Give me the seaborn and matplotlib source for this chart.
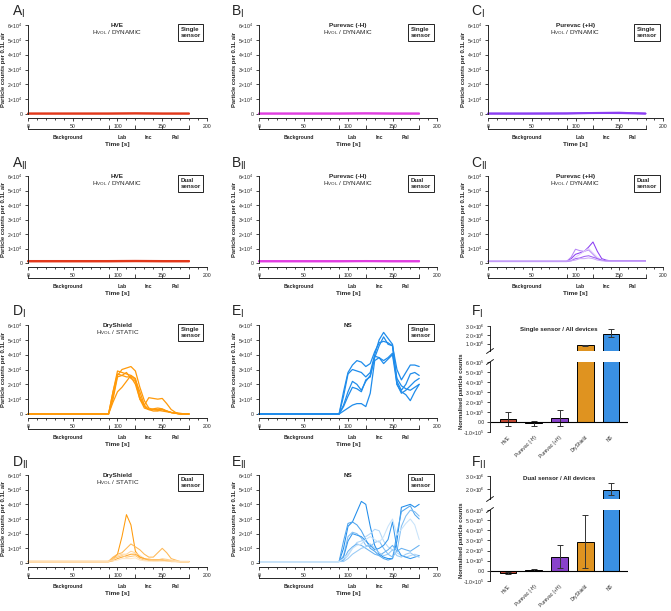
import numpy as np
import pandas as pd
import seaborn as sns
import matplotlib.pyplot as plt
from matplotlib.lines import Line2D

sns.set_theme(style="ticks")
plt.rcParams["font.family"] = ["Liberation Sans", "DejaVu Sans"]
plt.rcParams["mathtext.fontset"] = "custom"
plt.rcParams["mathtext.rm"] = "Liberation Sans"
plt.rcParams["mathtext.bf"] = "Liberation Sans:bold"
plt.rcParams["mathtext.default"] = "regular"

W, H = 671, 611

# ---- time series (counts in units of 1e4 per 0.1 L air) ----
t_run = [0, 90, 95, 100, 105, 110, 115, 120, 125, 130, 135, 140, 145, 150, 155, 160, 165, 170, 175, 180]
t_flat = [0, 45, 90, 120, 150, 180]

hve_single = [[0.03, 0.03, 0.03, 0.04, 0.03, 0.03],
              [0.02, 0.02, 0.02, 0.03, 0.02, 0.02],
              [0.04, 0.04, 0.04, 0.05, 0.04, 0.04]]
pnh_single = [[0.03, 0.03, 0.03, 0.04, 0.03, 0.03],
              [0.02, 0.02, 0.02, 0.03, 0.02, 0.02],
              [0.04, 0.04, 0.04, 0.05, 0.04, 0.04]]
ph_single = [[0.03, 0.03, 0.04, 0.08, 0.10, 0.03],
             [0.02, 0.02, 0.03, 0.05, 0.06, 0.02],
             [0.04, 0.04, 0.04, 0.06, 0.05, 0.04]]
hve_dual = [[0.12, 0.12, 0.12, 0.13, 0.12, 0.12],
            [0.10, 0.10, 0.10, 0.11, 0.10, 0.10],
            [0.15, 0.15, 0.15, 0.16, 0.15, 0.15]]
pnh_dual = [[0.12, 0.12, 0.12, 0.13, 0.12, 0.12],
            [0.10, 0.10, 0.10, 0.11, 0.10, 0.10],
            [0.14, 0.14, 0.14, 0.15, 0.14, 0.14]]
ph_dual = [
    [0.12, 0.12, 0.3, 0.6, 0.7, 0.8, 1.1, 1.45, 0.8, 0.3, 0.2, 0.15, 0.15, 0.15, 0.15, 0.15, 0.15, 0.15, 0.15, 0.15],
    [0.12, 0.12, 0.4, 0.95, 0.85, 0.8, 0.9, 0.6, 0.3, 0.2, 0.15, 0.15, 0.15, 0.15, 0.15, 0.15, 0.15, 0.15, 0.15, 0.15],
    [0.1, 0.1, 0.2, 0.4, 0.6, 0.8, 1.0, 0.7, 0.4, 0.2, 0.15, 0.12, 0.12, 0.12, 0.12, 0.12, 0.12, 0.12, 0.12, 0.12],
    [0.1, 0.1, 0.15, 0.3, 0.35, 0.45, 0.5, 0.4, 0.3, 0.2, 0.15, 0.12, 0.12, 0.12, 0.12, 0.12, 0.12, 0.12, 0.12, 0.12],
    [0.12, 0.12, 0.15, 0.2, 0.3, 0.3, 0.35, 0.3, 0.2, 0.15, 0.12, 0.12, 0.12, 0.12, 0.12, 0.12, 0.12, 0.12, 0.12, 0.12],
]
dry_single = [
    [0, 0, 1.5, 2.9, 2.8, 2.7, 2.6, 2.4, 1.2, 0.5, 0.3, 0.2, 0.2, 0.3, 0.2, 0.1, 0.05, 0, 0, 0],
    [0, 0, 1.2, 2.6, 3.0, 3.1, 3.2, 2.9, 1.8, 0.9, 0.4, 0.3, 0.3, 0.3, 0.2, 0.1, 0.05, 0, 0, 0],
    [0, 0, 0.8, 1.5, 1.8, 2.2, 2.6, 2.3, 1.5, 0.6, 0.3, 0.3, 0.25, 0.2, 0.15, 0.1, 0.05, 0, 0, 0],
    [0, 0, 1.5, 2.7, 2.6, 2.5, 2.5, 2.0, 1.0, 0.6, 1.1, 1.05, 1.0, 1.05, 0.7, 0.3, 0.1, 0.05, 0, 0],
    [0, 0, 1.0, 2.5, 2.6, 2.8, 2.4, 2.2, 1.0, 0.4, 0.3, 0.35, 0.4, 0.35, 0.2, 0.1, 0.05, 0, 0, 0],
]
dry_dual = [
    [0.1, 0.1, 0.3, 0.6, 1.8, 3.3, 2.6, 0.8, 0.4, 0.3, 0.2, 0.2, 0.2, 0.2, 0.15, 0.1, 0.1, 0.1, 0.1, 0.1],
    [0.12, 0.12, 0.4, 0.6, 0.7, 1.0, 1.3, 1.1, 0.9, 0.6, 0.4, 0.4, 0.7, 1.0, 0.7, 0.3, 0.2, 0.1, 0.1, 0.1],
    [0.1, 0.1, 0.2, 0.5, 0.6, 0.6, 0.8, 0.7, 0.5, 0.3, 0.3, 0.2, 0.2, 0.3, 0.25, 0.2, 0.15, 0.1, 0.1, 0.1],
    [0.08, 0.08, 0.15, 0.3, 0.4, 0.5, 0.6, 0.6, 0.4, 0.3, 0.2, 0.2, 0.2, 0.2, 0.15, 0.1, 0.1, 0.08, 0.08, 0.08],
    [0.1, 0.1, 0.3, 0.4, 0.5, 0.4, 0.45, 0.5, 0.3, 0.2, 0.2, 0.15, 0.15, 0.2, 0.2, 0.15, 0.1, 0.1, 0.1, 0.1],
    [0.12, 0.12, 0.15, 0.2, 0.3, 0.3, 0.3, 0.35, 0.2, 0.15, 0.12, 0.12, 0.12, 0.12, 0.12, 0.12, 0.12, 0.12, 0.12, 0.12],
]
ns_single = [
    [0, 0, 1.5, 2.8, 3.3, 3.6, 3.5, 3.2, 3.4, 4.2, 4.8, 4.9, 4.8, 4.6, 3.0, 2.3, 2.8, 3.3, 3.3, 3.2],
    [0, 0, 1.2, 2.7, 3.0, 2.9, 2.8, 2.5, 2.8, 4.0, 5.0, 5.5, 5.1, 4.7, 2.2, 1.6, 2.0, 2.7, 2.8, 2.6],
    [0, 0, 0.6, 1.5, 2.2, 2.0, 1.6, 2.2, 2.6, 3.8, 4.6, 5.2, 4.7, 4.6, 2.0, 1.4, 1.6, 1.9, 2.2, 2.4],
    [0, 0, 0.5, 1.2, 1.8, 1.7, 1.5, 2.3, 2.5, 3.9, 3.8, 3.6, 3.8, 4.1, 2.4, 1.9, 1.7, 1.6, 1.8, 2.0],
    [0, 0, 0.2, 0.4, 0.6, 0.7, 0.7, 0.5, 1.4, 3.6, 3.8, 3.4, 3.7, 4.0, 2.0, 1.5, 1.3, 0.9, 1.5, 2.0],
]
ns_dual = [
    [0.1, 0.1, 1.0, 2.5, 2.8, 3.5, 4.2, 4.0, 2.5, 1.2, 0.6, 0.4, 0.3, 0.3, 1.5, 3.8, 3.9, 4.0, 3.8, 4.0],
    [0.1, 0.1, 1.5, 2.7, 2.8, 2.6, 2.2, 1.6, 1.0, 0.8, 0.5, 0.3, 0.2, 0.3, 2.0, 3.5, 3.7, 3.9, 3.3, 3.0],
    [0.1, 0.1, 0.5, 1.8, 2.1, 2.0, 1.7, 1.2, 1.1, 1.4, 1.5, 1.0, 0.6, 0.4, 0.8, 2.5, 3.2, 3.6, 3.5, 3.2],
    [0.1, 0.1, 0.2, 0.5, 1.0, 1.4, 1.5, 1.8, 2.0, 2.3, 2.2, 1.5, 1.1, 0.9, 0.7, 0.5, 0.4, 0.5, 0.6, 0.5],
    [0.1, 0.1, 0.4, 1.5, 2.0, 1.9, 1.8, 1.5, 1.2, 0.9, 1.0, 1.2, 1.6, 2.8, 1.0, 0.5, 0.4, 0.3, 0.4, 0.5],
    [0.1, 0.1, 0.2, 0.8, 1.1, 1.3, 1.2, 1.0, 0.8, 0.6, 0.5, 0.7, 0.9, 1.2, 0.8, 1.0, 0.9, 0.8, 1.0, 1.2],
    [0.1, 0.1, 0.1, 0.3, 0.6, 0.8, 1.0, 1.1, 1.3, 1.0, 0.7, 0.5, 0.6, 0.9, 0.5, 0.4, 0.6, 0.7, 0.5, 0.4],
    [0.1, 0.1, 0.3, 0.6, 1.0, 1.2, 1.3, 1.6, 1.8, 1.6, 1.4, 1.8, 2.5, 3.0, 1.9, 2.3, 2.7, 3.0, 2.6, 1.6],
]

# ---- normalised counts (bars) ----
devices = ["HVE", "Purevac (-H)", "Purevac (+H)", "DryShield", "NS"]
single_mean = [0.3e5, -0.1e5, 0.4e5, 0.82e6, 2.15e6]
single_low = [-0.43e5, -0.37e5, -0.37e5, 0.79e6, 1.78e6]
single_high = [1.05e5, 0.07e5, 1.2e5, 0.85e6, 2.7e6]
dual_mean = [-0.2e5, 0.05e5, 1.37e5, 2.83e5, 1.97e6]
dual_low = [-0.33e5, -0.05e5, 0.27e5, 0.27e5, 1.55e6]
dual_high = [-0.1e5, 0.15e5, 2.53e5, 5.5e5, 2.5e6]

c_hve, c_pnh, c_ph, c_dry, c_ns = "#e2381b", "#e03ee0", "#8b3ef2", "#ff9a0a", "#1f8ceb"
bar_colors = ["#d9381e", "#b83ab8", "#8a2be2", "#ff9900", "#1e90ff"]

fig = plt.figure(figsize=(W / 100, H / 100), dpi=100)


def px_box(l, t, r, b):
    return [l / W, 1 - b / H, (r - l) / W, (b - t) / H]


def line_panel(col, row, runs, times, color, title, sub, sensor, dual):
    l, r = col
    t, b = row
    ax = fig.add_axes(px_box(l, t, r, b))
    recs = [(i, tt, v * 1e4) for i, run in enumerate(runs) for tt, v in zip(times, run)]
    df = pd.DataFrame(recs, columns=["run", "t", "count"])
    if dual:
        tint = sns.blend_palette([color, "#ffffff"], 5)[3]
        pal = sns.blend_palette([color, tint], len(runs))
        pal = pal[::2] + pal[1::2]
        lw = 0.75
    else:
        pal = [color] * len(runs)
        lw = 1.2 if len(times) < 10 else 0.9
    sns.lineplot(data=df, x="t", y="count", hue="run", palette=pal, estimator=None,
                 legend=False, lw=lw, clip_on=False, ax=ax)
    ax.set_xlim(0, 200)
    ax.set_ylim(0, 6e4)
    ax.set_xticks(range(0, 201, 50))
    ax.set_xticks(range(0, 201, 10), minor=True)
    ax.set_yticks([i * 1e4 for i in range(7)])
    ax.set_yticklabels(["0"] + [f"{i}×10$^4$" for i in range(1, 7)])
    ax.tick_params(labelsize=3.7, length=2.5, width=0.6, pad=1.5)
    ax.tick_params(which="minor", length=1.5, width=0.6)
    for s in ["left", "bottom"]:
        ax.spines[s].set_linewidth(0.7)
    sns.despine(ax=ax, offset={"bottom": 3})
    ax.set_xlabel("")
    ax.set_ylabel("Particle counts per 0.1L air", fontsize=4.2, fontweight="bold")
    ax.yaxis.set_label_coords(-22 / (r - l), 0.5)
    ax.text(0.5, 0.99, title, transform=ax.transAxes, ha="center", va="center",
            fontsize=4.6, fontweight="bold")
    if sub:
        ax.text(0.5, 0.91, sub, transform=ax.transAxes, ha="center", va="center", fontsize=4.6)
    ax.text(0.965, 0.975, sensor, transform=ax.transAxes, ha="right", va="top",
            fontsize=4.4, fontweight="bold", multialignment="left",
            bbox=dict(boxstyle="square,pad=0.45", fc="white", ec="black", lw=0.6))

    # phase bracket under the time axis
    bx = fig.add_axes(px_box(l, b + 15, r, b + 15.01))
    bx.set_xlim(0, 200)
    bx.patch.set_visible(False)
    for s in ["left", "right", "top"]:
        bx.spines[s].set_visible(False)
    bx.spines["bottom"].set_bounds(0, 180)
    bx.spines["bottom"].set_linewidth(0.7)
    bx.set_yticks([])
    bx.set_xticks([0, 90, 120, 150, 180])
    bx.set_xticklabels([])
    bx.set_xticks([45, 105, 135, 165], minor=True)
    bx.set_xticklabels(["Background", "Lab", "Inc", "Pal"], minor=True)
    bx.tick_params(which="major", direction="in", length=3, width=0.6)
    bx.tick_params(which="minor", length=0, labelsize=3.7, pad=4)
    for lab in bx.get_xticklabels(minor=True):
        lab.set_fontweight("bold")
    bx.set_xlabel("Time [s]", fontsize=4.6, fontweight="bold", labelpad=1.5)
    return ax


def brk(x, y):
    fig.add_artist(Line2D([(x - 3.5) / W, (x + 3.5) / W], [1 - (y + 2.5) / H, 1 - (y - 2.5) / H],
                          color="black", lw=0.6))


def bar_panel(top, ub, lt, bot, mean, low, high, up_lim, up_ticks, title):
    l, r = 490, 628
    axu = fig.add_axes(px_box(l, top, r, ub))
    axl = fig.add_axes(px_box(l, lt, r, bot))
    for ax, lim in ((axu, up_lim), (axl, (-1e5, 6e5))):
        sns.barplot(x=devices, y=mean, hue=devices, palette=bar_colors, legend=False,
                    width=0.65, edgecolor="black", linewidth=0.7, ax=ax)
        # only the error bars that reach into this segment
        idx = [i for i in range(len(devices)) if high[i] > lim[0] and low[i] < lim[1]]
        m = [mean[i] for i in idx]
        yerr = [[mean[i] - low[i] for i in idx], [high[i] - mean[i] for i in idx]]
        ax.errorbar(idx, m, yerr=yerr, fmt="none", ecolor="#333333",
                    elinewidth=0.7, capsize=2.2, capthick=0.7)
        ax.set_xlim(-0.7, 4.66)
        ax.set_ylim(*lim)
        ax.set_ylabel("")
        ax.tick_params(labelsize=3.7, length=2.5, width=0.6, pad=1.5)
        ax.spines["left"].set_linewidth(0.7)
        sns.despine(ax=ax, bottom=True)
    axu.set_yticks(up_ticks)
    axu.set_yticklabels([f"{v / 1e6:.1f}×10$^6$" for v in up_ticks])
    axu.set_xticks([])
    axu.text(0.5, 0.88, title, transform=axu.transAxes, ha="center", va="center",
             fontsize=4.4, fontweight="bold")
    lo_ticks = [-1e5, 0, 1e5, 2e5, 3e5, 4e5, 5e5, 6e5]
    axl.set_yticks(lo_ticks)
    axl.set_yticklabels(["0.0" if v == 0 else f"{v / 1e5:.1f}×10$^5$" for v in lo_ticks])
    axl.axhline(0, color="black", lw=0.8)
    axl.tick_params(axis="x", length=0, pad=2)
    axl.set_xticks(range(len(devices)))
    axl.set_xticklabels(devices, rotation=45, ha="right", rotation_mode="anchor", fontsize=3.5)
    brk(l, ub)
    brk(l, lt)
    fig.text(462 / W, 1 - (ub + bot) / 2 / H, "Normalised particle counts", rotation=90,
             ha="center", va="center", fontsize=4.2, fontweight="bold")


cols = [(28, 207), (259, 437), (488, 663)]
rows = [(25, 114), (176, 263), (325, 414), (475, 563)]
dyn = r"H$_{\mathrm{VOL}}$ / DYNAMIC"
sta = r"H$_{\mathrm{VOL}}$ / STATIC"
single, dual = "Single\nsensor", "Dual\nsensor"

line_panel(cols[0], rows[0], hve_single, t_flat, c_hve, "HVE", dyn, single, False)
line_panel(cols[1], rows[0], pnh_single, t_flat, c_pnh, "Purevac (-H)", dyn, single, False)
line_panel(cols[2], rows[0], ph_single, t_flat, c_ph, "Purevac (+H)", dyn, single, False)
line_panel(cols[0], rows[1], hve_dual, t_flat, c_hve, "HVE", dyn, dual, False)
line_panel(cols[1], rows[1], pnh_dual, t_flat, c_pnh, "Purevac (-H)", dyn, dual, False)
line_panel(cols[2], rows[1], ph_dual, t_run, c_ph, "Purevac (+H)", dyn, dual, True)
line_panel(cols[0], rows[2], dry_single, t_run, c_dry, "DryShield", sta, single, False)
line_panel(cols[1], rows[2], ns_single, t_run, c_ns, "NS", None, single, False)
line_panel(cols[0], rows[3], dry_dual, t_run, c_dry, "DryShield", sta, dual, True)
line_panel(cols[1], rows[3], ns_dual, t_run, c_ns, "NS", None, dual, True)

bar_panel(326, 351, 362, 432, single_mean, single_low, single_high,
          (0.17e6, 3.0e6), [1e6, 2e6, 3e6], "Single sensor / All devices")
bar_panel(476, 499, 510, 581, dual_mean, dual_low, dual_high,
          (1.25e6, 3.0e6), [2e6, 3e6], "Dual sensor / All devices")

labels = [("A", "I", 12, 4), ("B", "I", 231, 4), ("C", "I", 471, 4),
          ("A", "II", 12, 156), ("B", "II", 231, 156), ("C", "II", 471, 156),
          ("D", "I", 12, 304), ("E", "I", 231, 304), ("F", "I", 471, 304),
          ("D", "II", 12, 455), ("E", "II", 231, 455), ("F", "II", 471, 455)]
for letter, num, x, y in labels:
    fig.text(x / W, 1 - y / H, letter + r"$_{\mathrm{" + num + "}}$", fontsize=10, va="top", ha="left")

fig.savefig("out.png", dpi=100)
